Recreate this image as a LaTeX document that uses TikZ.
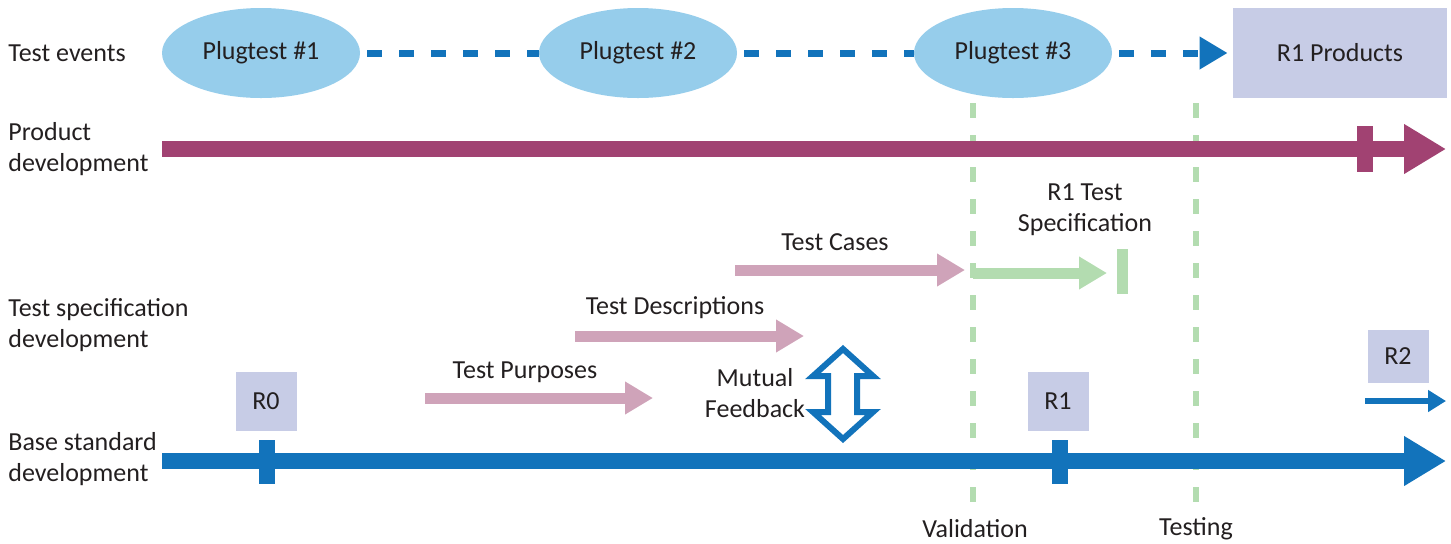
\documentclass[tikz,border=0pt]{standalone}
\usepackage{fontspec}
\setmainfont{Carlito}
\usetikzlibrary{shapes.geometric}
\usetikzlibrary{arrows.meta}
\usetikzlibrary{positioning}

\definecolor{eventblue}{HTML}{96CDEB}
\definecolor{lineblue}{HTML}{1273BB}
\definecolor{prodred}{HTML}{A14272}
\definecolor{specpink}{HTML}{CFA3B9}
\definecolor{valgreen}{HTML}{B3DCB0}
\definecolor{releasebox}{HTML}{C7CCE6}
\definecolor{textgrey}{HTML}{231F20}

\begin{document}
\begin{tikzpicture}[x = 0.5pt, y = -0.5pt,
every node/.style = {text = textgrey, font = \fontsize{13}{15.5}\selectfont},
event/.style = {ellipse, fill = eventblue, minimum width = 99pt, minimum height = 45pt, inner sep = 0pt},
release/.style = {fill = releasebox, minimum width = 30.5pt, minimum height = 29.5pt, inner sep = 0pt},
rowlabel/.style = {anchor = west, align = left, inner sep = 0pt},
tick/.style = {minimum width = 8pt, minimum height = 22pt, inner sep = 0pt},
flow/.style = {draw = lineblue, line width = 3.5pt, dash pattern = on 7.5pt off 8.5pt},
timeline/.style = {line width = 8pt, -{Triangle[length = 21pt, width = 23.5pt]}},
spec/.style = {line width = 5.5pt, -{Triangle[length = 14pt, width = 15.5pt]}},
phase/.style = {draw = valgreen, line width = 3pt, dash pattern = on 7.5pt off 8.5pt}]

\useasboundingbox (0, 0) rectangle (1451, 543);

\node[rowlabel] (events label) at (8, 53) {Test events};
\node[rowlabel] (product label) at (8, 149) {Product\\development};
\node[rowlabel] (spec label) at (8, 325) {Test specification\\development};
\node[rowlabel] (base label) at (8, 459) {Base standard\\development};

\node[event] (plugtest1) at (261, 53) {Plugtest \#1};
\node[event] (plugtest2) at (638, 53) {Plugtest \#2};
\node[event] (plugtest3) at (1013, 53) {Plugtest \#3};
\node[release, minimum width = 107pt, minimum height = 45pt] (products) at (1340, 53) {R1 Products};

\draw[flow] ([xshift = 3.5pt]plugtest1.east) -- (plugtest2.west);
\draw[flow] ([xshift = 3.5pt]plugtest2.east) -- (plugtest3.west);
\draw[flow, -{Triangle[length = 14pt, width = 15.5pt]}] ([xshift = 3.5pt]plugtest3.east) -- ([xshift = -2.5pt]products.west);

\node (validation) at (975, 529) {Validation};
\node (testing) at (1196, 529) {Testing};
\coordinate (validation top) at (973, 103);
\coordinate (testing top) at (1196, 103);
\draw[phase] (validation top) -- ([yshift = -3pt]validation top |- validation.north);
\draw[phase] (testing top) -- ([yshift = -3pt]testing top |- testing.north);

\coordinate (product start) at (162, 149);
\coordinate (product end) at (1446, 149);
\draw[timeline, draw = prodred] (product start) -- (product end);
\node[tick, fill = prodred, minimum height = 23pt] (product tick) at (1365, 149) {};

\node (purposes) at (525, 372) {Test Purposes};
\coordinate (purposes start) at (425, 398);
\coordinate (purposes end) at (653, 398);
\draw[spec, draw = specpink] (purposes start) -- (purposes end);

\node (descriptions) at (675, 308) {Test Descriptions};
\coordinate (descriptions start) at (575, 336);
\coordinate (descriptions end) at (804, 336);
\draw[spec, draw = specpink] (descriptions start) -- (descriptions end);

\node (cases) at (835, 242) {Test Cases};
\coordinate (cases start) at (735, 270);
\coordinate (cases end) at (965, 270);
\draw[spec, draw = specpink] (cases start) -- (cases end);

\node[align = center] (r1 spec) at (1085, 210) {R1 Test\\Specification};
\coordinate (r1 spec start) at (973, 273);
\coordinate (r1 spec end) at (1107, 273);
\draw[spec, draw = valgreen] (r1 spec start) -- (r1 spec end);
\node[tick, fill = valgreen, minimum width = 5.5pt, minimum height = 22.5pt] (r1 spec bar) at (1122, 271) {};

\node[align = center] (feedback) at (755, 393) {Mutual\\Feedback};
\draw[lineblue, line width = 3pt, line join = miter] (843, 349) -- (873, 376) -- (857, 376) -- (857, 412) -- (873, 412) -- (843, 439) -- (813, 412) -- (828, 412) -- (828, 376) -- (813, 376) -- cycle;

\node[release] (r0) at (266, 401) {R0};
\node[release] (r1) at (1058, 401) {R1};
\node[release, minimum height = 26.5pt] (r2) at (1398, 356) {R2};

\coordinate (base start) at (162, 461);
\coordinate (base end) at (1446, 461);
\draw[timeline, draw = lineblue] (base start) -- (base end);
\node[tick, fill = lineblue] (r0 tick) at (267, 462) {};
\node[tick, fill = lineblue] (r1 tick) at (1060, 462) {};

\coordinate (r2 start) at (1365, 401);
\coordinate (r2 end) at (1446, 401);
\draw[lineblue, line width = 3pt, -{Triangle[length = 9pt, width = 10.5pt]}] (r2 start) -- (r2 end);

\end{tikzpicture}
\end{document}
